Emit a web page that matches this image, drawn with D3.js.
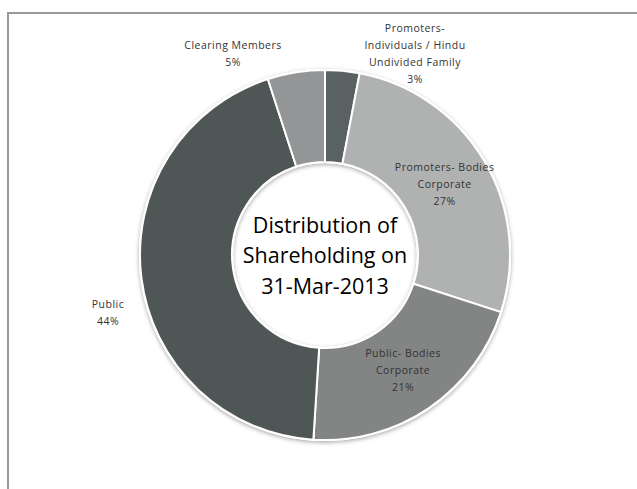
<!DOCTYPE html>
<html>
<head>
<meta charset="utf-8">
<script src="https://cdn.jsdelivr.net/npm/d3@7"></script>
<style>
  html, body { margin: 0; padding: 0; background: #fff; }
  svg { display: block; }
</style>
</head>
<body>
<svg id="chart" width="637" height="489"></svg>
<script>
// Shareholding pattern, 31-Mar-2013 (percent of shares)
const categories = [
  "Promoters- Individuals / Hindu Undivided Family",
  "Promoters- Bodies Corporate",
  "Public- Bodies Corporate",
  "Public",
  "Clearing Members"
];
const shares = [3, 27, 21, 44, 5];
const sliceColors = ["#5a6163", "#b0b1b1", "#838484", "#4e5756", "#949596"];
// Label lines (the last line carries the percentage)
const labelLines = [
  ["Promoters-", "Individuals / Hindu", "Undivided Family"],
  ["Promoters- Bodies", "Corporate"],
  ["Public- Bodies", "Corporate"],
  ["Public"],
  ["Clearing Members"]
];
const titleLines = ["Distribution of", "Shareholding on", "31-Mar-2013"];

// Layout
const W = 637, H = 489;
const cx = 325, cy = 255;
const outerR = 185, innerR = 93;
const lineH = 17;
// Outside labels are pushed clear of the ring; inside ones sit on the centroid
const outsideLabel = {
  0: [90, -201],
  3: [-217, 58],
  4: [-92, -201]
};

const svg = d3.select("#chart");

const defs = svg.append("defs");
const shadow = defs.append("filter").attr("id", "ringShadow")
  .attr("x", "-20%").attr("y", "-20%").attr("width", "140%").attr("height", "140%");
shadow.append("feDropShadow")
  .attr("dx", 0).attr("dy", 1.5).attr("stdDeviation", 2)
  .attr("flood-color", "#000").attr("flood-opacity", 0.35);

// Chart frame (continues past the window on the right and bottom)
svg.append("rect")
  .attr("x", 8).attr("y", 13).attr("width", 700).attr("height", 600)
  .attr("fill", "#fff").attr("stroke", "#999").attr("stroke-width", 2);

const pie = d3.pie().sort(null).value(d => d)
  .startAngle(0).endAngle(2 * Math.PI);
const arcs = pie(shares);

const arc = d3.arc().innerRadius(innerR).outerRadius(outerR);
const labelArc = d3.arc().innerRadius(innerR).outerRadius(outerR);

const g = svg.append("g").attr("transform", `translate(${cx},${cy})`);

// Soft white rim with a shadow behind the whole ring
g.append("path")
  .attr("d", d3.arc().innerRadius(innerR - 1).outerRadius(outerR + 1)
    .startAngle(0).endAngle(2 * Math.PI)())
  .attr("fill", "#fff")
  .attr("filter", "url(#ringShadow)");

g.selectAll("path.slice")
  .data(arcs)
  .join("path")
  .attr("class", "slice")
  .attr("d", arc)
  .attr("fill", (d, i) => sliceColors[i])
  .attr("stroke", "#fff")
  .attr("stroke-width", 2)
  .attr("stroke-linejoin", "round");

// Data labels
g.selectAll("text.lbl")
  .data(arcs)
  .join("text")
  .attr("class", "lbl")
  .attr("text-anchor", "middle")
  .attr("font-family", "'Open Sans', sans-serif")
  .attr("font-size", 10.5)
  .attr("letter-spacing", 0.5)
  .attr("fill", "#333")
  .each(function(d, i) {
    const lines = labelLines[i].concat([d3.format(".0f")(d.value) + "%"]);
    const pos = outsideLabel[i] || labelArc.centroid(d);
    const top = pos[1] - (lines.length - 1) * lineH / 2;
    const t = d3.select(this);
    lines.forEach((ln, k) => {
      t.append("tspan")
        .attr("x", pos[0])
        .attr("y", top + k * lineH)
        .attr("dy", "0.35em")
        .text(ln);
    });
  });

// Centre title
const title = g.append("text")
  .attr("text-anchor", "middle")
  .attr("font-family", "'Open Sans', sans-serif")
  .attr("font-size", 21.5)
  .attr("font-weight", 500)
  .attr("fill", "#000");
titleLines.forEach((ln, k) => {
  title.append("tspan")
    .attr("x", 0)
    .attr("y", -30 + k * 30.5)
    .attr("dy", "0.35em")
    .text(ln);
});
</script>
</body>
</html>
